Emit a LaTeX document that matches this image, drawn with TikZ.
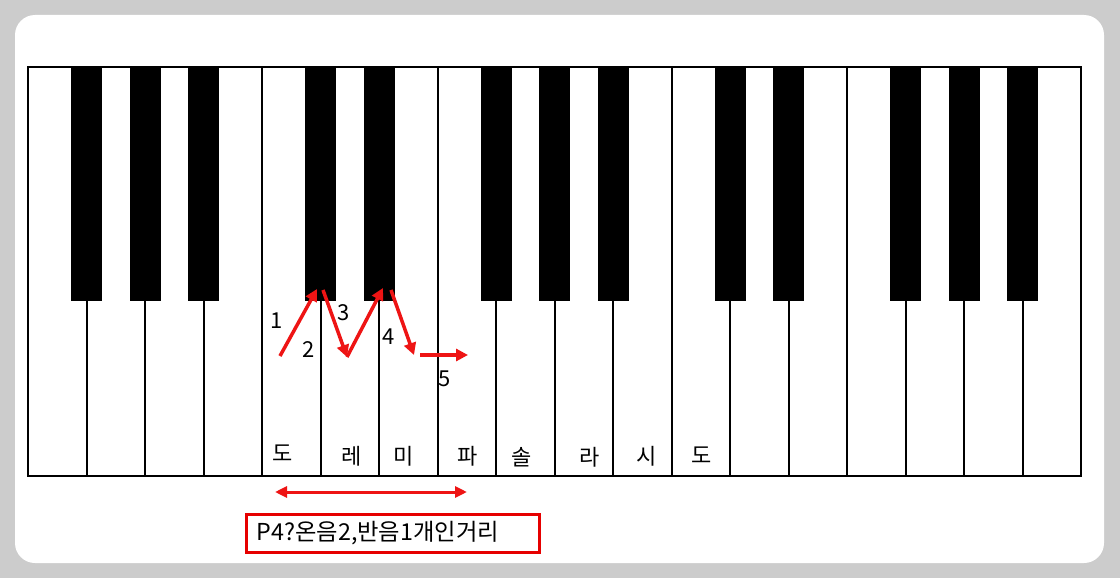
\documentclass[tikz,border=0pt]{standalone}
\usepackage{fontspec}
\setmainfont{Noto Sans CJK KR}
\usetikzlibrary{arrows.meta}
\definecolor{bggray}{RGB}{204,204,204}
\definecolor{arrowred}{RGB}{238,20,20}
\definecolor{boxred}{RGB}{230,0,0}
\begin{document}
\begin{tikzpicture}[x=1pt,y=-1pt,
  keyline/.style={line width=2pt,black},
  blackkey/.style={fill=black,draw=none},
  notelabel/.style={font=\fontsize{22}{22}\selectfont,inner sep=0pt},
  steplabel/.style={font=\fontsize{22}{22}\selectfont,inner sep=0pt},
  redarrow/.style={draw=arrowred,line width=3.5pt,-{Triangle[length=12pt,width=12pt]}},
  spanarrow/.style={draw=arrowred,line width=3pt,{Triangle[length=12pt,width=11pt]}-{Triangle[length=12pt,width=11pt]}}
]
% background
\fill[bggray] (0,0) rectangle (1120,578);
\fill[white,rounded corners=20pt] (15,15) rectangle (1104,563);
% white key dividers
\foreach \i in {1,...,17} {
  \draw[keyline] ({28+58.5*\i},67) -- ({28+58.5*\i},476);
}
% black keys
\foreach \i in {1,2,3,5,6,8,9,10,12,13,15,16,17} {
  \fill[blackkey] ({28+58.5*\i-15.5},67) rectangle ({28+58.5*\i+15.5},301);
}
% outline
\draw[keyline] (28,67) rectangle (1081,476);
% note labels
\node[notelabel] (do1) at (283,453) {도};
\node[notelabel] (re) at (352,456) {레};
\node[notelabel] (mi) at (404,456) {미};
\node[notelabel] (fa) at (468,456) {파};
\node[notelabel] (sol) at (522,457) {솔};
\node[notelabel] (la) at (590,457) {라};
\node[notelabel] (si) at (647,456) {시};
\node[notelabel] (do2) at (702,455) {도};
% step numbers
\node[steplabel] (n1) at (277,321) {1};
\node[steplabel] (n2) at (309,350) {2};
\node[steplabel] (n3) at (344,313) {3};
\node[steplabel] (n4) at (389,337) {4};
\node[steplabel] (n5) at (445,379) {5};
% arrow path points
\coordinate (p1) at (280,356);
\coordinate (p2) at (317,289);
\coordinate (p3) at (323,290);
\coordinate (p4) at (347,357);
\coordinate (p5) at (383,288);
\coordinate (p6) at (391,290);
\coordinate (p7) at (414,355);
\coordinate (p8) at (420,355);
\coordinate (p9) at (468,355);
\draw[redarrow] (p1) -- (p2);
\draw[redarrow] (p3) -- (p4);
\draw[redarrow] (p4) -- (p5);
\draw[redarrow] (p6) -- (p7);
\draw[redarrow] (p8) -- (p9);
% span arrow
\coordinate (sa) at (275,492);
\coordinate (sb) at (467,492);
\draw[spanarrow] (sa) -- (sb);
% caption box
\node[draw=boxred,line width=3pt,anchor=north west,minimum width=293pt,minimum height=38pt,
      inner xsep=10pt,inner ysep=0pt,text width=273pt,align=left,
      font=\fontsize{23.3}{23.3}\selectfont] (cap) at (245,513) {P4?온음2,반음1개인거리};
\end{tikzpicture}
\end{document}
